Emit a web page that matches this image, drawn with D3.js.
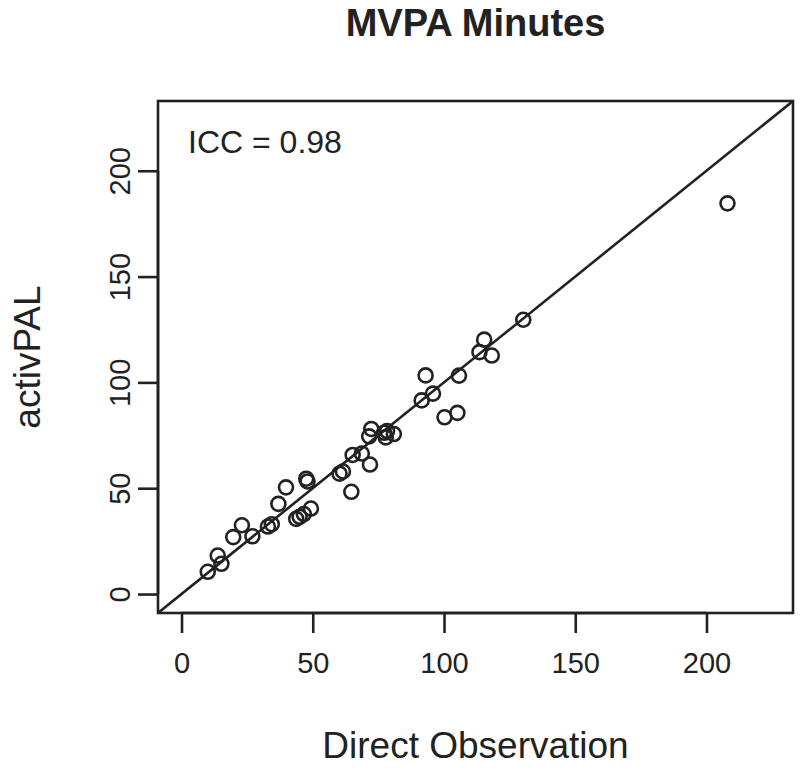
<!DOCTYPE html>
<html>
<head>
<meta charset="utf-8">
<script src="https://cdn.jsdelivr.net/npm/d3@7"></script>
<style>
  html, body { margin: 0; padding: 0; background: #fff; }
  text { font-family: "Liberation Sans", Arial, Helvetica, sans-serif; fill: #222; }
</style>
</head>
<body>
<svg id="chart" width="800" height="768"></svg>
<script>
// Data
const directObservation = [10, 13.8, 15.2, 19.7, 23, 27, 32.9, 34.4, 36.9, 39.8,
  43.7, 45, 46.6, 49.3, 47.5, 48, 60.2, 61.5, 64.7, 65.2,
  68.7, 71.8, 72.3, 71.5, 77.2, 78.3, 80.9, 77.8, 91.5, 95.8,
  93, 105.7, 100.2, 105.1, 115.3, 113.5, 118.2, 130.2, 208];
const activPAL = [10.5, 18.2, 14.3, 26.9, 32.5, 27.3, 31.9, 33, 42.6, 50.4,
  35.5, 36.5, 37.8, 40.4, 54.5, 53.2, 56.9, 57.9, 48.3, 65.7,
  66.4, 61.2, 78, 74.5, 76.2, 77, 75.6, 74, 91.5, 94.7,
  103.3, 103.2, 83.5, 85.6, 120.2, 114.3, 112.7, 129.6, 184.6];
const xTicks = [0, 50, 100, 150, 200];
const yTicks = [0, 50, 100, 150, 200];
const dataLimits = [0, 224];
const titleText = "MVPA Minutes";
const xLabel = "Direct Observation";
const yLabel = "activPAL";
const annotation = "ICC = 0.98";

const points = directObservation.map((d, i) => ({x: d, y: activPAL[i]}));

const svg = d3.select("#chart");
const ink = "#222";
const plot = {left: 158, right: 793, top: 101, bottom: 613};

const pad = (dataLimits[1] - dataLimits[0]) * 0.04;
const domain = [dataLimits[0] - pad, dataLimits[1] + pad];
const x = d3.scaleLinear().domain(domain).range([plot.left, plot.right]);
const y = d3.scaleLinear().domain(domain).range([plot.bottom, plot.top]);

// clip for identity line
svg.append("defs").append("clipPath").attr("id", "clip")
  .append("rect").attr("x", plot.left).attr("y", plot.top)
  .attr("width", plot.right - plot.left).attr("height", plot.bottom - plot.top);

// identity line y = x
svg.append("line")
  .attr("clip-path", "url(#clip)")
  .attr("x1", x(domain[0])).attr("y1", y(domain[0]))
  .attr("x2", x(domain[1])).attr("y2", y(domain[1]))
  .attr("stroke", ink).attr("stroke-width", 2.6);

// points
svg.append("g").selectAll("circle").data(points).join("circle")
  .attr("cx", d => x(d.x)).attr("cy", d => y(d.y)).attr("r", 7)
  .attr("fill", "none").attr("stroke", ink).attr("stroke-width", 2.6);

// box
svg.append("rect")
  .attr("x", plot.left).attr("y", plot.top)
  .attr("width", plot.right - plot.left).attr("height", plot.bottom - plot.top)
  .attr("fill", "none").attr("stroke", ink).attr("stroke-width", 2.6);

// x axis
const xAxis = svg.append("g").attr("transform", `translate(0,${plot.bottom})`)
  .call(d3.axisBottom(x).tickValues(xTicks).tickSize(20).tickSizeOuter(0).tickPadding(19));
xAxis.select(".domain").attr("d", `M${x(xTicks[0])},0H${x(xTicks[xTicks.length-1])}`)
  .attr("stroke", ink).attr("stroke-width", 2.6);
xAxis.selectAll(".tick line").attr("stroke", ink).attr("stroke-width", 2.6);
xAxis.selectAll(".tick text").attr("font-size", 29).attr("fill", ink)
  .style("font-family", '"Liberation Sans", Arial, sans-serif');

// y axis
const yAxis = svg.append("g").attr("transform", `translate(${plot.left},0)`)
  .call(d3.axisLeft(y).tickValues(yTicks).tickSize(20).tickSizeOuter(0));
yAxis.select(".domain").attr("d", `M0,${y(yTicks[0])}V${y(yTicks[yTicks.length-1])}`)
  .attr("stroke", ink).attr("stroke-width", 2.6);
yAxis.selectAll(".tick line").attr("stroke", ink).attr("stroke-width", 2.6);
yAxis.selectAll(".tick text")
  .attr("x", null).attr("dy", null)
  .attr("transform", "translate(-28,0) rotate(-90)")
  .attr("text-anchor", "middle")
  .attr("font-size", 29).attr("fill", ink)
  .style("font-family", '"Liberation Sans", Arial, sans-serif');

// title
svg.append("text").attr("x", (plot.left + plot.right) / 2).attr("y", 36)
  .attr("text-anchor", "middle").attr("font-size", 38).attr("font-weight", "bold")
  .text(titleText);

// x label
svg.append("text").attr("x", (plot.left + plot.right) / 2).attr("y", 758)
  .attr("text-anchor", "middle").attr("font-size", 37)
  .text(xLabel);

// y label
svg.append("text")
  .attr("transform", `translate(40,${(plot.top + plot.bottom) / 2}) rotate(-90)`)
  .attr("text-anchor", "middle").attr("font-size", 37)
  .text(yLabel);

// annotation
svg.append("text").attr("x", 188).attr("y", 153)
  .attr("font-size", 32)
  .text(annotation);
</script>
</body>
</html>
